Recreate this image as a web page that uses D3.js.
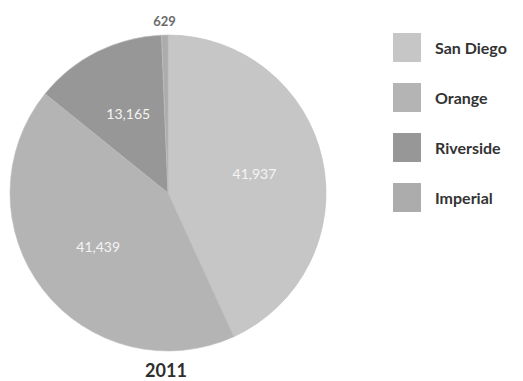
<!DOCTYPE html>
<html>
<head>
<meta charset="utf-8">
<script src="https://cdn.jsdelivr.net/npm/d3@7"></script>
<style>
  html, body { margin: 0; padding: 0; background: #fff; }
  svg { display: block; }
  text { font-family: Lato, "Open Sans", sans-serif; }
</style>
</head>
<body>
<svg id="chart" width="523" height="381"></svg>
<script>
// County totals for 2011
const counties = ["San Diego", "Orange", "Riverside", "Imperial"];
const totals = [41937, 41439, 13165, 629];
const sliceColors = ["#c6c6c6", "#b4b4b4", "#979797", "#acacac"];
const yearLabel = "2011";

const svg = d3.select("#chart");
const cx = 168, cy = 193, radius = 158;

const color = d3.scaleOrdinal().domain(counties).range(sliceColors);

const pie = d3.pie().sort(null).value(d => d.value);
const rows = counties.map((name, i) => ({ name, value: totals[i] }));
const arcs = pie(rows);

const arc = d3.arc().innerRadius(0).outerRadius(radius);
const labelArc = d3.arc().innerRadius(radius * 0.56).outerRadius(radius * 0.56);
const outerArc = d3.arc().innerRadius(radius + 10).outerRadius(radius + 10);

const g = svg.append("g").attr("transform", `translate(${cx},${cy})`);

g.selectAll("path.slice")
  .data(arcs)
  .join("path")
  .attr("class", "slice")
  .attr("d", arc)
  .attr("fill", d => color(d.data.name))
  .attr("stroke", "#bdbdbd")
  .attr("stroke-width", 0.6);

const fmt = d3.format(",");

// Values inside the large slices, outside the tiny one
g.selectAll("text.value")
  .data(arcs)
  .join("text")
  .attr("class", "value")
  .each(function (d) {
    const small = (d.endAngle - d.startAngle) < 0.2;
    const p = small ? outerArc.centroid(d) : labelArc.centroid(d);
    d3.select(this)
      .attr("x", p[0])
      .attr("y", small ? p[1] - 4 : p[1])
      .attr("dy", "0.35em")
      .attr("fill", small ? "#6a6a6a" : "#f4f4f4")
      .attr("font-size", small ? 13 : 14)
      .attr("font-weight", small ? 700 : 400);
  })
  .attr("text-anchor", "middle")
  .text(d => fmt(d.data.value));

// Year caption
svg.append("text")
  .attr("x", cx - 2)
  .attr("y", 377)
  .attr("text-anchor", "middle")
  .attr("font-size", 18)
  .attr("font-weight", 700)
  .attr("fill", "#2e2e2e")
  .text(yearLabel);

// Legend
const legend = svg.append("g").attr("transform", "translate(393,33)");
const item = legend.selectAll("g")
  .data(counties)
  .join("g")
  .attr("transform", (d, i) => `translate(0,${i * 50})`);

item.append("rect")
  .attr("width", 28)
  .attr("height", 29)
  .attr("fill", d => color(d));

item.append("text")
  .attr("x", 42)
  .attr("y", 15)
  .attr("dy", "0.35em")
  .attr("font-size", 16)
  .attr("font-weight", 700)
  .attr("fill", "#333")
  .text(d => d);
</script>
</body>
</html>
